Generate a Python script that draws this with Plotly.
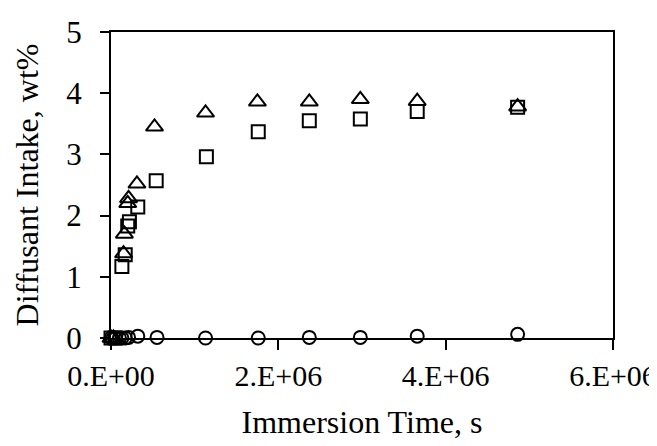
import plotly.graph_objects as go

# Immersion time (s) and diffusant intake (wt%) for three series
time_tri = [0, 0.03e6, 0.15e6, 0.16e6, 0.20e6, 0.21e6, 0.31e6, 0.52e6, 1.13e6, 1.75e6, 2.37e6, 2.98e6, 3.66e6, 4.86e6]
intake_tri = [0, 0, 1.38, 1.70, 2.20, 2.28, 2.52, 3.45, 3.68, 3.86, 3.86, 3.90, 3.87, 3.78]

time_sq = [0, 0.05e6, 0.13e6, 0.17e6, 0.20e6, 0.22e6, 0.32e6, 0.54e6, 1.14e6, 1.76e6, 2.37e6, 2.98e6, 3.66e6, 4.86e6]
intake_sq = [0, 0, 1.17, 1.36, 1.83, 1.90, 2.14, 2.57, 2.96, 3.37, 3.55, 3.58, 3.70, 3.77]

time_circ = [0, 0.05e6, 0.10e6, 0.13e6, 0.17e6, 0.21e6, 0.32e6, 0.55e6, 1.13e6, 1.76e6, 2.37e6, 2.98e6, 3.66e6, 4.86e6]
intake_circ = [0, 0, 0, 0, 0, 0.01, 0.03, 0.01, 0, 0, 0.01, 0.01, 0.03, 0.06]

x_tickvals = [0, 2e6, 4e6, 6e6]
x_ticktext = ["0.E+00", "2.E+06", "4.E+06", "6.E+06"]
y_tickvals = [0, 1, 2, 3, 4, 5]

font_family = "Liberation Serif, Times New Roman, serif"

fig = go.Figure()

def add(xs, ys, symbol, size):
    fig.add_trace(go.Scatter(
        x=xs, y=ys, mode="markers", cliponaxis=False, showlegend=False,
        marker=dict(symbol=symbol, size=size, color="black",
                    line=dict(color="black", width=2)),
    ))

add(time_circ, intake_circ, "circle-open", 13)
add(time_sq, intake_sq, "square-open", 13)
add(time_tri, intake_tri, "triangle-up-open", 15)

fig.update_layout(
    width=657, height=446,
    margin=dict(l=103, r=52, t=24, b=116),
    paper_bgcolor="white", plot_bgcolor="white",
    font=dict(family=font_family, color="black"),
    xaxis=dict(
        range=[0, 6e6], tickvals=x_tickvals, ticktext=x_ticktext,
        automargin=False,
        showgrid=False, zeroline=False, showline=True, linecolor="black",
        linewidth=2, mirror=True, ticks="outside", ticklen=10, tickwidth=2,
        tickcolor="black", tickfont=dict(size=30, family=font_family),
        title=dict(text="Immersion Time, s", font=dict(size=32, family=font_family),
                   standoff=20),
    ),
    yaxis=dict(
        range=[0, 5], tickvals=y_tickvals,
        automargin=False,
        showgrid=False, zeroline=False, showline=True, linecolor="black",
        linewidth=2, mirror=True, ticks="outside", ticklen=9, tickwidth=2,
        tickcolor="black", tickfont=dict(size=31, family=font_family),
        ticklabelstandoff=12,
        title=dict(text="Diffusant Intake, wt%", font=dict(size=32, family=font_family),
                   standoff=18),
    ),
)

fig.write_html("out.html")
